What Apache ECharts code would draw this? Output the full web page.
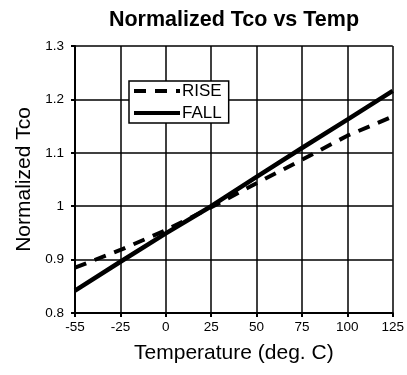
<!DOCTYPE html>
<html><head><meta charset="utf-8">
<script src="https://cdn.jsdelivr.net/npm/echarts@6/dist/echarts.min.js"></script>
<style>html,body{margin:0;padding:0;background:#fff}#c{width:407px;height:375px}</style>
</head><body><div id="c"></div>
<script>
var temps = ['-55','-25','0','25','50','75','100','125'];
var rise = [0.885, 0.918, 0.955, 0.998, 1.043, 1.087, 1.132, 1.168];
var fall = [0.842, 0.896, 0.949, 1.0, 1.055, 1.109, 1.162, 1.216];
var yTicks = [0.8, 0.9, 1.0, 1.1, 1.2, 1.3];
var font = 'Liberation Sans, Arial, sans-serif';
var chart = echarts.init(document.getElementById('c'), null, {renderer:'canvas'});
chart.setOption({
  animation:false,
  title:{text:'Normalized Tco vs Temp', left:229, top:4, textAlign:'center',
    textStyle:{fontFamily:font, fontSize:21.5, fontWeight:'bold', color:'#000'}},
  grid:{left:75, right:12, top:46, bottom:62, containLabel:false},
  legend:{
    orient:'vertical', left:129, top:81,
    backgroundColor:'#fff', borderColor:'#000', borderWidth:1.5, borderRadius:0,
    padding:[1,7,1,3], itemGap:4, itemWidth:46, itemHeight:18,
    itemStyle:{opacity:0},
    lineStyle:{width:4},
    textStyle:{fontFamily:font, fontSize:17, lineHeight:18, color:'#000', padding:[0,0,0,-3]},
    data:['RISE','FALL']
  },
  xAxis:{type:'category', data:temps, boundaryGap:false,
    axisLine:{lineStyle:{color:'#000', width:2}},
    axisTick:{show:true, length:4, lineStyle:{color:'#000', width:2}},
    splitLine:{show:true, lineStyle:{color:'#000', width:1.5}},
    axisLabel:{fontFamily:font, fontSize:13.5, color:'#000', margin:7},
    name:'Temperature (deg. C)', nameLocation:'middle', nameGap:30,
    nameTextStyle:{fontFamily:font, fontSize:21, color:'#000'}},
  yAxis:{type:'value', min:0.8, max:1.3, interval:0.1,
    axisLine:{show:true, lineStyle:{color:'#000', width:2}},
    axisTick:{show:true, length:4, lineStyle:{color:'#000', width:2}},
    splitLine:{show:true, lineStyle:{color:'#000', width:1.5}},
    axisLabel:{fontFamily:font, fontSize:13.5, color:'#000', margin:11,
      formatter:function(v){var r=Math.round(v*10)/10; return yTicks.indexOf(r)>=0 ? String(r) : '';}},
    name:'Normalized Tco', nameLocation:'middle', nameGap:40,
    nameTextStyle:{fontFamily:font, fontSize:21, color:'#000'}},
  series:[
    {name:'RISE', type:'line', data:rise, symbol:'none', z:3,
      lineStyle:{color:'#000', width:4, type:[12,9]}, itemStyle:{color:'#000'}},
    {name:'FALL', type:'line', data:fall, symbol:'none', z:4,
      lineStyle:{color:'#000', width:4.5}, itemStyle:{color:'#000'}}
  ]
});
</script></body></html>
